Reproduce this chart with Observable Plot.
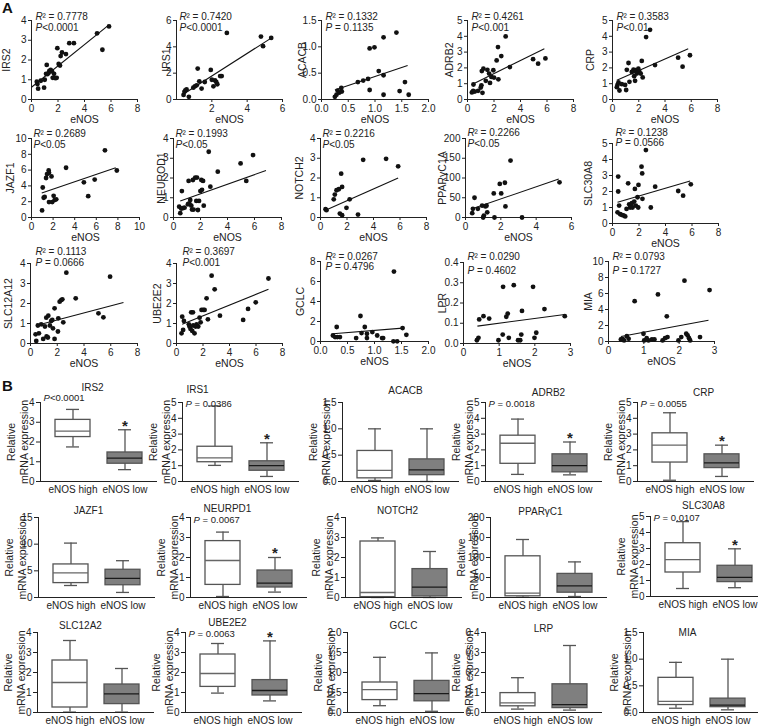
<!DOCTYPE html>
<html>
<head>
<meta charset="utf-8">
<script src="https://cdn.jsdelivr.net/npm/d3@7"></script>
<script src="https://cdn.jsdelivr.net/npm/@observablehq/plot@0.6"></script>
<style>
  body { margin: 0; background: #fff; }
  #fig { position: relative; width: 758px; height: 727px; overflow: hidden; background: #fff;
         font-family: "Liberation Sans", Arial, Helvetica, sans-serif; }
  .panel-label { position: absolute; font-weight: bold; font-size: 15px; color: #111; }
</style>
</head>
<body>
<div id="fig">
  <div class="panel-label" style="left:2px;top:-1px">A</div>
  <div class="panel-label" style="left:2px;top:377px">B</div>
</div>
<script>
// ---------------- DATA: panel A (scatter plots vs eNOS) ----------------
const scatterGenes = ["IRS2", "IRS1", "ACACB", "ADRB2", "CRP",
                      "JAZF1", "NEUROD1", "NOTCH2", "PPARγC1A", "SLC30A8",
                      "SLC12A12", "UBE2E2", "GCLC", "LPR", "MIA"];
const r2Values = ["0.7778", "0.7420", "0.1332", "0.4261", "0.3583",
                  "0.2689", "0.1993", "0.2216", "0.2266", "0.1238",
                  "0.1113", "0.3697", "0.0267", "0.0290", "0.0793"];
const pValues = ["<0.0001", "<0.0001", " = 0.1135", "<0.001", "<0.01",
                 "<0.05", "<0.05", "<0.05", "<0.05", " = 0.0566",
                 " = 0.0666", "<0.001", " = 0.4796", " = 0.4602", " = 0.1727"];
const xAxisLabel = "eNOS";

const ptsIRS2 = [[0.4,0.9],[0.45,0.78],[0.5,0.55],[0.7,0.95],[0.95,0.6],[1.0,1.0],[1.1,1.3],[1.15,1.75],[1.2,1.28],[1.3,1.35],[1.35,1.45],[1.45,1.5],[1.55,1.42],[1.6,1.1],[1.7,1.3],[1.8,1.08],[1.9,1.1],[1.95,2.6],[2.05,1.8],[2.15,1.72],[2.2,2.2],[2.3,2.38],[2.6,2.3],[2.85,2.85],[3.2,2.85],[4.95,3.35],[5.35,2.52],[5.85,3.7]];
const ptsIRS1 = [[0.4,0.35],[0.45,0.58],[0.5,0.7],[0.57,0.76],[0.7,0.2],[0.95,0.9],[1.04,1.0],[1.14,1.08],[1.2,2.35],[1.29,1.38],[1.42,0.83],[1.6,1.33],[1.94,2.25],[2.0,1.5],[2.09,1.0],[2.18,1.45],[2.25,1.33],[2.31,1.16],[2.47,1.78],[2.56,1.78],[2.85,5.06],[4.78,4.78],[4.9,4.05],[5.36,4.68]];
const ptsACACB = [[0.25,0.05],[0.28,0.09],[0.3,0.17],[0.33,0.13],[0.37,0.22],[0.38,0.15],[0.68,0.33],[0.78,0.36],[0.87,0.39],[0.9,0.18],[0.9,0.97],[0.99,0.99],[1.07,0.54],[1.16,1.18],[1.16,0.46],[1.16,0.09],[1.4,1.27],[1.46,0.16],[1.56,0.33],[1.63,0.09]];
const ptsADRB2 = [[0.33,0.45],[0.43,0.55],[0.45,0.95],[0.55,0.5],[0.8,0.55],[1.0,0.76],[1.05,0.9],[1.13,0.42],[1.08,1.8],[1.2,1.95],[1.38,1.18],[1.5,1.88],[1.63,1.64],[1.7,1.05],[1.8,1.43],[1.95,1.85],[2.0,1.39],[2.2,2.47],[2.3,3.32],[2.33,1.28],[2.55,2.75],[2.88,3.99],[3.2,2.05],[4.95,2.55],[5.33,2.27],[5.88,2.6]];
const ptsCRP = [[0.33,0.78],[0.38,0.92],[0.46,1.08],[0.53,0.57],[0.71,0.97],[0.96,0.92],[1.04,0.6],[1.09,1.88],[1.22,2.31],[1.29,1.12],[1.47,1.74],[1.6,1.89],[1.65,1.47],[1.72,1.18],[1.77,1.85],[1.85,1.64],[1.97,1.95],[2.05,1.74],[2.15,1.64],[2.23,2.44],[2.3,1.4],[2.56,3.95],[2.86,4.41],[3.24,2.18],[5.0,2.65],[5.34,2.08],[5.9,2.8]];
const ptsJAZF1 = [[0.98,0.9],[1.04,3.8],[1.13,2.5],[1.22,2.6],[1.35,5.0],[1.44,5.5],[1.59,5.95],[1.62,5.65],[1.62,1.95],[1.85,5.2],[1.92,1.95],[2.05,2.75],[2.14,2.2],[2.29,2.3],[3.2,6.3],[4.85,4.45],[5.25,2.7],[5.85,4.8],[6.8,8.5],[7.9,5.95]];
const ptsNEUROD1 = [[0.42,0.55],[0.5,0.22],[0.57,0.45],[0.62,1.34],[0.7,0.47],[0.82,0.5],[1.07,0.67],[1.12,1.85],[1.17,0.72],[1.24,0.89],[1.32,0.6],[1.37,0.4],[1.44,1.9],[1.49,0.4],[1.61,2.02],[1.69,0.84],[1.74,2.02],[1.81,0.38],[1.89,0.84],[1.99,1.34],[2.06,1.9],[2.11,1.4],[2.19,1.85],[2.24,0.6],[2.61,3.33],[2.73,1.56],[3.28,2.32],[4.97,2.74],[5.39,1.85],[5.89,3.16]];
const ptsNOTCH2 = [[0.38,0.42],[0.45,0.37],[1.0,0.92],[1.08,1.16],[1.21,1.38],[1.38,1.43],[1.46,0.2],[1.56,2.22],[1.63,1.55],[1.63,0.12],[1.96,0.49],[2.2,0.92],[2.83,0.15],[3.22,2.92],[4.95,2.97],[5.86,2.59]];
const ptsPPARGC1A = [[0.38,11],[0.42,22],[0.51,50],[0.7,22],[0.94,30],[1.0,0],[1.04,5],[1.13,28],[1.19,30],[1.23,13],[1.6,61],[1.64,0],[1.94,85],[2.02,61],[2.23,88],[2.26,28],[2.55,144],[3.2,0],[5.32,89]];
const ptsSLC30A8 = [[0.38,0.7],[0.43,2.0],[0.43,2.93],[0.5,1.12],[0.58,0.58],[0.68,0.54],[0.83,0.5],[0.96,0.44],[1.06,0.91],[1.18,2.51],[1.26,1.2],[1.33,1.0],[1.38,1.12],[1.46,1.27],[1.51,1.0],[1.64,1.37],[1.69,2.16],[1.76,1.12],[1.89,1.64],[1.96,2.41],[1.94,1.0],[2.19,3.55],[2.24,3.13],[2.26,1.54],[2.52,4.59],[2.89,1.0],[3.22,2.3],[4.96,2.03],[5.33,1.74],[5.91,2.45]];
const ptsSLC12A12 = [[0.38,0.46],[0.43,0.13],[0.55,0.9],[0.63,0.51],[0.8,0.96],[0.95,0.23],[1.08,0.85],[1.18,1.29],[1.2,0.35],[1.3,0.3],[1.33,1.39],[1.45,0.9],[1.55,1.13],[1.63,1.18],[1.68,0.76],[1.8,1.76],[1.8,0.23],[2.05,0.6],[2.08,1.26],[2.18,2.09],[2.3,2.17],[2.38,2.21],[2.45,1.06],[2.68,3.54],[3.38,2.26],[5.08,1.51],[5.45,1.31],[5.95,3.34]];
const ptsUBE2E2 = [[0.38,0.51],[0.43,1.34],[0.5,0.68],[0.56,1.13],[0.93,0.96],[0.98,0.85],[1.06,0.73],[1.11,1.56],[1.19,0.63],[1.24,1.56],[1.26,0.9],[1.36,0.51],[1.44,0.85],[1.52,0.96],[1.64,0.85],[1.74,1.29],[1.82,1.06],[1.89,1.68],[2.02,1.68],[2.12,1.68],[2.27,2.26],[2.37,1.21],[2.65,3.39],[2.88,2.71],[3.28,1.39],[5.03,1.18],[5.4,1.73],[5.98,2.06],[6.94,3.25]];
const ptsGCLC = [[0.23,0.6],[0.27,0.44],[0.3,1.45],[0.31,0.44],[0.36,0.44],[0.66,0.34],[0.74,2.55],[0.76,0.84],[0.82,1.45],[0.86,0.77],[0.86,0.34],[0.96,0.94],[1.05,0.6],[1.14,0.34],[1.16,0.34],[1.36,6.99],[1.35,0.02],[1.42,0.02],[1.52,1.34],[1.59,0.67]];
const ptsLPR = [[0.375,0.016],[0.42,0.028],[0.44,0.119],[0.56,0.135],[0.72,0.123],[0.98,0.016],[1.1,0.044],[1.11,0.28],[1.2,0.132],[1.24,0.148],[1.27,0.028],[1.41,0.288],[1.53,0.016],[1.59,0.016],[1.62,0.044],[1.64,0.161],[1.95,0.28],[1.99,0.028],[2.04,0.053],[2.27,0.17],[2.84,0.135]];
const ptsMIA = [[0.35,0.25],[0.4,0.34],[0.44,0.13],[0.52,0.67],[0.57,0.34],[0.74,5.04],[0.99,0.97],[1.01,0.13],[1.08,0.42],[1.13,0.13],[1.23,0.25],[1.3,0.25],[1.4,5.88],[1.53,0.13],[1.6,0.42],[1.65,3.15],[1.67,0.55],[1.98,0.13],[2.06,0.55],[2.2,0.97],[2.24,0.76],[2.28,0.42],[2.31,0.13],[2.15,7.6],[2.59,0.55],[2.86,6.43]];
const scatterPoints = [ptsIRS2, ptsIRS1, ptsACACB, ptsADRB2, ptsCRP,
                       ptsJAZF1, ptsNEUROD1, ptsNOTCH2, ptsPPARGC1A, ptsSLC30A8,
                       ptsSLC12A12, ptsUBE2E2, ptsGCLC, ptsLPR, ptsMIA];
// fitted regression lines: [x start, y start, x end, y end]
const scatterFits = [[0,0.62,5.8,3.75],[0.38,0.4,5.4,4.7],[0.25,0.18,1.61,0.645],[0.38,0.97,5.8,3.21],[0.33,1.22,5.77,3.21],
                     [0.95,3.1,7.8,6.3],[0.5,0.83,6.85,2.38],[0.38,0.37,5.86,2.0],[0.38,22,5.28,97.5],[0.38,1.33,5.86,2.66],
                     [0.43,0.9,6.95,2.05],[0.43,0.96,6.94,2.71],[0.23,0.77,1.52,1.34],[0.39,0.086,2.84,0.143],[0.35,0.63,2.83,2.65]];
const scatterXTicks = [[0,2,4,6,8],[2,4,6],[0,0.5,1,1.5,2],[0,2,4,6,8],[0,2,4,6,8],
                       [0,2,4,6,8,10],[0,2,4,6,8],[0,2,4,6,8],[0,2,4,6],[0,2,4,6,8],
                       [0,2,4,6,8],[0,2,4,6,8],[0,0.5,1,1.5,2],[0,1,2,3],[0,1,2,3]];
const scatterYTicks = [[0,1,2,3,4],[0,2,4,6],[0,0.5,1,1.5],[0,1,2,3,4,5],[0,1,2,3,4,5],
                       [0,2,4,6,8,10],[0,1,2,3,4],[0,1,2,3,4],[0,50,100,150,200],[0,1,2,3,4,5],
                       [0,1,2,3,4],[0,1,2,3,4],[0,2,4,6,8],[0,0.1,0.2,0.3,0.4],[0,2,4,6,8,10]];

// ---------------- DATA: panel B (box plots, eNOS high vs low) ----------------
const boxGenes = ["IRS2", "IRS1", "ACACB", "ADRB2", "CRP",
                  "JAZF1", "NEURPD1", "NOTCH2", "PPARγC1", "SLC30A8",
                  "SLC12A2", "UBE2E2", "GCLC", "LRP", "MIA"];
const groups = ["eNOS high", "eNOS low"];
const boxP = ["<0.0001", " = 0.0386", null, " = 0.0018", " = 0.0055",
              null, " = 0.0067", null, null, " = 0.0107",
              null, " = 0.0063", null, null, null];
const boxStar = [true, true, false, true, true, false, true, false, false, true, false, true, false, false, false];
// [min, q1, median, q3, max]
const highStats = [[1.75,2.25,2.55,3.12,3.65],[1.02,1.22,1.5,2.2,4.78],[0.02,0.06,0.21,0.58,1.0],[0.45,1.12,2.42,2.9,3.95],[0.08,1.2,2.3,3.05,4.35],
                   [2.25,2.7,4.6,6.2,10.2],[0.05,0.63,1.85,2.82,3.27],[0.0,0.02,0.25,2.8,2.98],[0.5,3,11,103,145],[0.5,1.5,2.3,3.33,4.68],
                   [0.02,0.25,1.5,2.6,3.6],[0.97,1.28,1.95,2.9,3.45],[0.17,0.31,0.57,0.75,1.38],[0.017,0.031,0.048,0.097,0.174],[0.08,0.14,0.21,0.65,0.94]];
const lowStats = [[0.6,0.9,1.18,1.47,2.62],[0.32,0.68,1.0,1.28,2.45],[0.0,0.12,0.22,0.42,1.0],[0.42,0.58,1.0,1.72,2.5],[0.32,0.85,1.18,1.72,2.3],
                  [0.95,2.3,3.6,5.2,6.9],[0.27,0.5,0.72,1.35,2.0],[0.0,0.05,0.52,1.42,2.3],[2.5,12,29,59,89],[0.55,0.9,1.2,1.92,2.98],
                  [0.02,0.42,0.93,1.4,2.2],[0.58,0.85,1.1,1.62,3.58],[0.03,0.28,0.47,0.79,1.49],[0.012,0.022,0.039,0.141,0.335],[0.05,0.1,0.14,0.26,1.0]];
const boxYTicks = [[0,1,2,3,4],[0,1,2,3,4,5],[0,0.5,1,1.5],[0,1,2,3,4,5],[0,1,2,3,4,5],
                   [0,5,10,15],[0,1,2,3,4],[0,1,2,3,4],[0,50,100,150,200],[0,1,2,3,4,5],
                   [0,1,2,3,4],[0,1,2,3,4],[0,0.5,1,1.5,2],[0,0.1,0.2,0.3,0.4],[0,0.5,1,1.5]];
const boxYLabel = "Relative\nmRNA expression";

// ---------------- LAYOUT (pixel frames, not data) ----------------
// scatter: [frameLeft, frameTop, frameRight, frameBottom, yLabelDx, statDy, statDx, pGap]
const scatterLayout = [
  [31,20,137,99,-25,-4,4,11],[176,20,282,99,-10,-4,3,11],[321,20,428,99,-19,-4,4,11],[467,20,573,99,-18,-4,4,11],[612,20,717,99,-22,-4,4,11],
  [31,138,139,217,-21,-5,2,11],[173,138,281,217,-12,-5,2,11],[320,138,426,217,-21,-5,2,11],[465,138,571,217,-23,-6,2,11],[612,143,718,223,-24,-11,3,10],
  [30,263,137,343,-22,-12,5,11],[176,263,282,343,-19,-12,6,11],[320,261,428,341,-20,-5,5,10],[463,262,570,343,-21,-6,4,14],[608,261,714,341,-20,-5,4,14]
];
// box: [frameLeft, frameTop, frameBottom, titleDx, titleDy, pDy]
const boxLayout = [
  [40,402,481,52,-15,-5],[182,402,481,15,-13,1],[342,402,481,63,-12,0],[485,402,481,63,-10,1],[637,402,481,66,-10,1],
  [38,517,597,50,-7,0],[190,517,597,37,-9,2],[345,517,597,52,-7,0],[490,517,597,50,-6,0],[650,516,596,53,-11,1],
  [37,632,712,43,-7,0],[185,632,712,42,-10,1],[347,632,712,56,-7,0],[485,632,712,58,-4,0],[643,632,712,44,0,0]
];

const FONT = '"Liberation Sans", Arial, Helvetica, sans-serif';
const AX = "#222";
const BOXLINE = "#555";
const fig = document.getElementById("fig");
const fmtFor = ticks => ticks.some(t => t % 1 !== 0) ? d3.format(".1f") : d3.format("d");

function place(svg, left, top, w, h) {
  const d = document.createElement("div");
  d.style.cssText = `position:absolute;left:${left}px;top:${top}px;width:${w}px;height:${h}px;`;
  svg.style.maxWidth = "none";
  d.appendChild(svg);
  fig.appendChild(d);
}

function baseStyle() {
  return {background: "transparent", fontFamily: FONT, fontSize: "10px", color: "#222", overflow: "visible"};
}

function scatter(i) {
  const [L, T, R, B, labDx, sDy, sDx, pGap] = scatterLayout[i];
  const ml = 40, mt = 26, mr = 10, mb = 28;
  const w = R - L + ml + mr, h = B - T + mt + mb;
  const xt = scatterXTicks[i], yt = scatterYTicks[i];
  const pts = scatterPoints[i].map(([x, y]) => ({x, y}));
  const fit = scatterFits[i];
  const svg = Plot.plot({
    width: w, height: h, marginLeft: ml, marginRight: mr, marginTop: mt, marginBottom: mb,
    style: baseStyle(),
    x: {domain: [0, d3.max(xt)]},
    y: {domain: [0, d3.max(yt)]},
    marks: [
      Plot.frame({anchor: "left", stroke: AX, strokeWidth: 1}),
      Plot.frame({anchor: "bottom", stroke: AX, strokeWidth: 1}),
      Plot.axisX({ticks: xt, tickFormat: fmtFor(xt), tickSize: 3, tickPadding: 2, label: null, stroke: AX}),
      Plot.axisY({ticks: yt, tickFormat: fmtFor(yt), tickSize: 3, tickPadding: 2, label: null, stroke: AX}),
      Plot.link([fit], {x1: d => d[0], y1: d => d[1], x2: d => d[2], y2: d => d[3], stroke: "#111", strokeWidth: 1.1}),
      Plot.dot(pts, {x: "x", y: "y", r: 2.4, fill: "#111"}),
      Plot.text([xAxisLabel], {frameAnchor: "bottom", dy: 20, textAnchor: "middle", lineAnchor: "middle", fontSize: 10.5}),
      Plot.text([scatterGenes[i]], {frameAnchor: "left", rotate: -90, dx: labDx, textAnchor: "middle", lineAnchor: "middle", fontSize: 10.5}),
      Plot.text(["R"], {frameAnchor: "top-left", dx: sDx, dy: sDy, fontStyle: "italic", textAnchor: "start", lineAnchor: "middle", fontSize: 10}),
      Plot.text(["² = " + r2Values[i]], {frameAnchor: "top-left", dx: sDx + 7, dy: sDy, textAnchor: "start", lineAnchor: "middle", fontSize: 10}),
      Plot.text(["P"], {frameAnchor: "top-left", dx: sDx, dy: sDy + pGap, fontStyle: "italic", textAnchor: "start", lineAnchor: "middle", fontSize: 10}),
      Plot.text([pValues[i]], {frameAnchor: "top-left", dx: sDx + 6.7, dy: sDy + pGap, textAnchor: "start", lineAnchor: "middle", fontSize: 10})
    ]
  });
  place(svg, L - ml, T - mt, w, h);
}

function boxPanel(i) {
  const [L, T, B, tDx, tDy, pDy] = boxLayout[i];
  const W = 116, ml = 48, mt = 26, mr = 6, mb = 20;
  const w = W + ml + mr, h = B - T + mt + mb;
  const yt = boxYTicks[i];
  const hi = [{g: groups[0], s: highStats[i]}];
  const lo = [{g: groups[1], s: lowStats[i]}];
  const rows = hi.concat(lo);
  const marks = [
    Plot.ruleX(rows, {x: "g", y1: d => d.s[0], y2: d => d.s[4], stroke: BOXLINE, strokeWidth: 1.3}),
    Plot.tickY(rows, {x: "g", y: d => d.s[0], insetLeft: 11, insetRight: 11, stroke: BOXLINE, strokeWidth: 1.3}),
    Plot.tickY(rows, {x: "g", y: d => d.s[4], insetLeft: 11, insetRight: 11, stroke: BOXLINE, strokeWidth: 1.3}),
    Plot.barY(hi, {x: "g", y1: d => d.s[1], y2: d => d.s[3], fill: "#fff", stroke: BOXLINE, strokeWidth: 1.3}),
    Plot.barY(lo, {x: "g", y1: d => d.s[1], y2: d => d.s[3], fill: "#7f7f7f", stroke: BOXLINE, strokeWidth: 1.3}),
    Plot.tickY(hi, {x: "g", y: d => d.s[2], stroke: "#666", strokeWidth: 1.3}),
    Plot.tickY(lo, {x: "g", y: d => d.s[2], stroke: "#1a1a1a", strokeWidth: 1.3}),
    Plot.frame({anchor: "left", stroke: AX, strokeWidth: 1}),
    Plot.frame({anchor: "bottom", stroke: AX, strokeWidth: 1}),
    Plot.axisY({ticks: yt, tickFormat: fmtFor(yt), tickSize: 4, tickPadding: 2, label: null, stroke: AX}),
    Plot.axisX({tickSize: 0, tickPadding: 4, label: null, fontSize: 10}),
    Plot.text([boxYLabel], {frameAnchor: "left", rotate: -90, dx: -23, textAnchor: "middle", lineAnchor: "middle", lineHeight: 1.25, fontSize: 10.5}),
    Plot.text([boxGenes[i]], {frameAnchor: "top-left", dx: tDx, dy: tDy, textAnchor: "middle", lineAnchor: "middle", fontSize: 10})
  ];
  if (boxP[i]) {
    marks.push(Plot.text(["P"], {frameAnchor: "top-left", dx: 3, dy: pDy, fontStyle: "italic", textAnchor: "start", lineAnchor: "middle", fontSize: 9.5}));
    marks.push(Plot.text([boxP[i]], {frameAnchor: "top-left", dx: 9.4, dy: pDy, textAnchor: "start", lineAnchor: "middle", fontSize: 9.5}));
  }
  if (boxStar[i]) {
    marks.push(Plot.text(lo, {x: "g", y: d => d.s[4], text: () => "*", dy: -4, fontSize: 15, fontWeight: "bold"}));
  }
  const svg = Plot.plot({
    width: w, height: h, marginLeft: ml, marginRight: mr, marginTop: mt, marginBottom: mb,
    style: baseStyle(),
    x: {domain: groups, paddingInner: 0.33, paddingOuter: 0.28},
    y: {domain: [0, d3.max(yt)]},
    marks
  });
  place(svg, L - ml, T - mt, w, h);
}

for (let i = 0; i < scatterGenes.length; i++) scatter(i);
for (let i = 0; i < boxGenes.length; i++) boxPanel(i);
</script>
</body>
</html>
